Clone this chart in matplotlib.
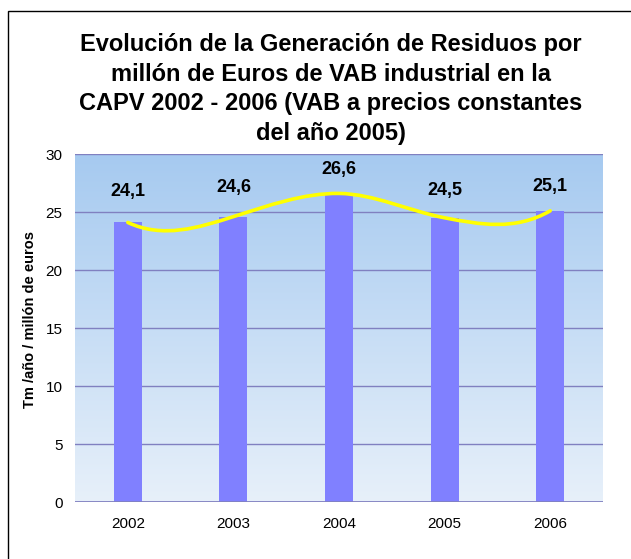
import numpy as np
import matplotlib
matplotlib.use("Agg")
import matplotlib.pyplot as plt
from matplotlib.path import Path
from matplotlib.patches import PathPatch, Rectangle

plt.rcParams['font.family'] = ['Liberation Sans', 'DejaVu Sans']

years = ['2002', '2003', '2004', '2005', '2006']
values = [24.1, 24.6, 26.6, 24.5, 25.1]
value_labels = ['24,1', '24,6', '26,6', '24,5', '25,1']
yticks = [0, 5, 10, 15, 20, 25, 30]
title = ("Evolución de la Generación de Residuos por\n"
         "millón de Euros de VAB industrial en la\n"
         "CAPV 2002 - 2006 (VAB a precios constantes\n"
         "del año 2005)")
ylabel = "Tm /año / millón de euros"

W, H = 631, 559
fig = plt.figure(figsize=(W / 100, H / 100), dpi=100)
fig.patch.set_facecolor('white')

# outer chart border (only left/top visible in the reference)
fig.patches.append(Rectangle((8 / W, -0.1), 1.2, 1 - 11 / H + 0.1, transform=fig.transFigure,
                             fill=False, edgecolor='black', linewidth=1.0))

ax = fig.add_axes([75 / W, 57 / H, 528 / W, 348 / H])
ax.set_xlim(-0.5, len(years) - 0.5)
ax.set_ylim(0, 30)

# gradient background
top = np.array([166, 202, 240]) / 255
bot = np.array([231, 240, 250]) / 255
t = np.linspace(0, 1, 256)[:, None]
grad = (top * (1 - t) + bot * t)[:, None, :]
ax.imshow(grad, extent=[-0.5, len(years) - 0.5, 0, 30], aspect='auto', zorder=0,
          interpolation='bilinear')

grid_c = '#8080C0'
for yv in yticks[1:]:
    ax.axhline(yv, color=grid_c, linewidth=1.0, zorder=1)
ax.axhline(0, color=grid_c, linewidth=1.3, zorder=3)

x = np.arange(len(years))
ax.bar(x, values, width=0.265, color='#8080FF', zorder=2)

# smoothed line (Hermite spline -> cubic Bezier, drawn in data coordinates)
y = np.array(values, dtype=float)
n = len(y)
m = np.zeros(n)
for i in range(1, n - 1):
    m[i] = (y[i + 1] - y[i - 1]) * 1.15
m[0] = 3 * (y[1] - y[0]) - 2 * m[1]
m[-1] = 3 * (y[-1] - y[-2]) - 2 * m[-2]
verts = [(x[0], y[0])]
codes = [Path.MOVETO]
for i in range(n - 1):
    verts += [(x[i] + 1 / 3, y[i] + m[i] / 3),
              (x[i + 1] - 1 / 3, y[i + 1] - m[i + 1] / 3),
              (x[i + 1], y[i + 1])]
    codes += [Path.CURVE4] * 3
ax.add_patch(PathPatch(Path(verts, codes), fill=False, edgecolor='#FFFF00',
                       linewidth=2.6, zorder=4, capstyle='round'))

label_off_px = [31, 29, 24, 27, 24]
for xi, v, lab, off in zip(x, values, value_labels, label_off_px):
    ax.annotate(lab, (xi, v), xytext=(0, off * 0.72), textcoords='offset points',
                ha='center', va='center', fontsize=13, fontweight='bold', zorder=5)

ax.set_xticks(x)
ax.set_xticklabels(years, fontsize=11)
ax.set_yticks(yticks)
ax.set_yticklabels([str(v) for v in yticks], fontsize=11)
ax.tick_params(axis='both', length=0)
ax.tick_params(axis='y', pad=9)
ax.tick_params(axis='x', pad=11)
for s in ax.spines.values():
    s.set_visible(False)

fig.text(30 / W, 1 - 320 / H, ylabel, rotation=90, ha='center', va='center',
         fontsize=10.5, fontweight='bold')
fig.text(331 / W, 1 - 89 / H, title, ha='center', va='center', fontsize=17,
         fontweight='bold', linespacing=1.36)

fig.savefig('out.png', dpi=100)
